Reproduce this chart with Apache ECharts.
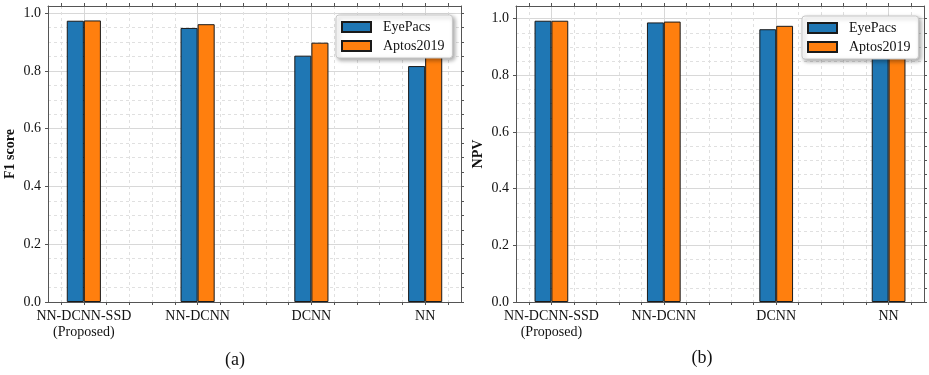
<!DOCTYPE html>
<html>
<head>
<meta charset="utf-8">
<script src="https://cdn.jsdelivr.net/npm/echarts@6/dist/echarts.min.js"></script>
<style>
html, body { margin: 0; padding: 0; background: #fff; }
#container { width: 929px; height: 375px; }
</style>
</head>
<body>
<div id="container"></div>
<script>
// data
var categories = ['NN-DCNN-SSD\n(Proposed)', 'NN-DCNN', 'DCNN', 'NN'];
var seriesNames = ['EyePacs', 'Aptos2019'];
var f1EyePacs = [0.974, 0.949, 0.853, 0.817];
var f1Aptos = [0.975, 0.962, 0.898, 0.87];
var npvEyePacs = [0.993, 0.987, 0.963, 0.94];
var npvAptos = [0.993, 0.99, 0.975, 0.955];
var xTicks = [0, 1, 2, 3];
var yTicks = [0, 0.2, 0.4, 0.6, 0.8, 1.0];

var frame = '#555';
var serif = 'Liberation Serif';
var colors = ['#1f77b4', '#ff7f0e'];

// minor tick positions (matplotlib-style minor locator)
var xMinor = [];
for (var i = -1; i <= 16; i++) { if (i % 5 !== 0) xMinor.push(+(i * 0.2).toFixed(2)); }
var yMinor = [];
for (var j = 1; j <= 20; j++) { if (j % 4 !== 0) yMinor.push(+(j * 0.05).toFixed(2)); }
var xAll = xTicks.concat(xMinor);
var yAll = yTicks.concat(yMinor);

var tick = { show: true, inside: false, length: 3, lineStyle: { color: frame, width: 1 } };
var line = { show: true, onZero: false, lineStyle: { color: frame, width: 1 } };

function makeX(g) {
    var xmin = -0.315, xmax = 3.315;
    return [
        {
            type: 'value', gridIndex: g, position: 'bottom', min: xmin, max: xmax,
            axisLine: line,
            axisTick: Object.assign({ customValues: xTicks }, tick),
            axisLabel: {
                customValues: xTicks, margin: 6, color: '#111',
                fontFamily: serif, fontSize: 14, lineHeight: 16,
                formatter: function (v) { return categories[Math.round(v)] || ''; }
            },
            splitLine: { show: true, lineStyle: { color: '#d8d8d8', width: 1 } }
        },
        {
            type: 'value', gridIndex: g, position: 'bottom', min: xmin, max: xmax,
            axisLine: { show: false },
            axisTick: Object.assign({ customValues: xMinor }, tick),
            axisLabel: { show: false },
            splitLine: { show: true, lineStyle: { color: '#e0e0e0', width: 1, type: [3, 3] } }
        },
        {
            type: 'value', gridIndex: g, position: 'top', min: xmin, max: xmax,
            axisLine: line,
            axisTick: Object.assign({ customValues: xAll }, tick),
            axisLabel: { show: false },
            splitLine: { show: false }
        }
    ];
}

function makeY(g, ymax, name) {
    return [
        {
            type: 'value', gridIndex: g, position: 'left', min: 0, max: ymax,
            name: name, nameLocation: 'middle', nameGap: 31,
            nameTextStyle: { fontFamily: serif, fontSize: 14, fontWeight: 'bold', color: '#111' },
            axisLine: line,
            axisTick: Object.assign({ customValues: yTicks }, tick),
            axisLabel: {
                customValues: yTicks, margin: 7, color: '#111',
                fontFamily: serif, fontSize: 14,
                formatter: function (v) { return v.toFixed(1); }
            },
            splitLine: { show: true, lineStyle: { color: '#d8d8d8', width: 1 } }
        },
        {
            type: 'value', gridIndex: g, position: 'left', min: 0, max: ymax,
            axisLine: { show: false },
            axisTick: Object.assign({ customValues: yMinor }, tick),
            axisLabel: { show: false },
            splitLine: { show: true, lineStyle: { color: '#e0e0e0', width: 1, type: [3, 3] } }
        },
        {
            type: 'value', gridIndex: g, position: 'right', min: 0, max: ymax,
            axisLine: line,
            axisTick: Object.assign({ customValues: yAll }, tick),
            axisLabel: { show: false },
            splitLine: { show: false }
        }
    ];
}

function pairs(vals) {
    return vals.map(function (v, k) { return [xTicks[k], v]; });
}

function bar(name, vals, g, c) {
    return {
        name: name, type: 'bar',
        xAxisIndex: g * 3, yAxisIndex: g * 3,
        data: pairs(vals),
        barWidth: '15%', barGap: '0%',
        itemStyle: { color: c, borderColor: '#1a1a1a', borderWidth: 1 }
    };
}

function legendAt(left, top) {
    return {
        data: seriesNames, orient: 'vertical', left: left, top: top,
        icon: 'rect', itemWidth: 29, itemHeight: 10, itemGap: 5,
        padding: [5, 8, 5, 5],
        backgroundColor: '#fff', borderColor: '#c8c8c8', borderWidth: 1, borderRadius: 3,
        shadowBlur: 4, shadowColor: 'rgba(0,0,0,0.35)', shadowOffsetX: 2, shadowOffsetY: 2,
        formatter: function (n) { return '  ' + n; },
        textStyle: { fontFamily: serif, fontSize: 14, color: '#111' }
    };
}

var dom = document.getElementById('container');
var myChart = echarts.init(dom);
var option = {
    animation: false,
    color: colors,
    grid: [
        { left: 48, right: 468, top: 6, bottom: 73 },
        { left: 516, right: 5, top: 6, bottom: 73 }
    ],
    xAxis: makeX(0).concat(makeX(1)),
    yAxis: makeY(0, 1.025, 'F1 score').concat(makeY(1, 1.045, 'NPV')),
    legend: [legendAt(336, 15), legendAt(802, 16)],
    series: [
        bar(seriesNames[0], f1EyePacs, 0, colors[0]),
        bar(seriesNames[1], f1Aptos, 0, colors[1]),
        bar(seriesNames[0], npvEyePacs, 1, colors[0]),
        bar(seriesNames[1], npvAptos, 1, colors[1])
    ],
    graphic: [
        { type: 'text', x: 235, y: 360, style: { text: '(a)', align: 'center', verticalAlign: 'middle', font: '18px "Liberation Serif"', fill: '#111' } },
        { type: 'text', x: 702, y: 358, style: { text: '(b)', align: 'center', verticalAlign: 'middle', font: '18px "Liberation Serif"', fill: '#111' } }
    ]
};
myChart.setOption(option, true);
</script>
</body>
</html>
